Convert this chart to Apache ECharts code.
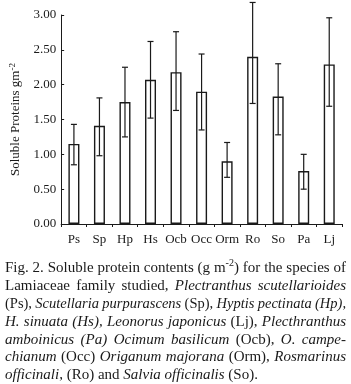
<!DOCTYPE html>
<html>
<head>
<meta charset="utf-8">
<script src="https://cdn.jsdelivr.net/npm/echarts@6/dist/echarts.min.js"></script>
<style>
  html, body { margin: 0; padding: 0; background: #fff; }
  #chart { width: 351px; height: 384px; }
</style>
</head>
<body>
<div id="chart"></div>
<script>
// species codes
var species = ['Ps', 'Sp', 'Hp', 'Hs', 'Ocb', 'Occ', 'Orm', 'Ro', 'So', 'Pa', 'Lj'];
// soluble protein, g m-2 (bar heights)
var protein = [1.15, 1.41, 1.75, 2.07, 2.18, 1.90, 0.90, 2.40, 1.83, 0.76, 2.29];
// error bar ends
var errLow  = [0.85, 0.98, 1.25, 1.52, 1.63, 1.35, 0.67, 1.73, 1.28, 0.50, 1.69];
var errHigh = [1.43, 1.81, 2.25, 2.62, 2.76, 2.44, 1.17, 3.18, 2.30, 1.00, 2.96];
var yTicks = ['0.00', '0.50', '1.00', '1.50', '2.00', '2.50', '3.00'];

// figure caption, runs of [text, style]  n = normal, i = italic, sup = superscript
var captionLines = [
    [['Fig. 2. Soluble protein contents (g m', 'n'], ['-2', 'sup'], [') for the species of', 'n']],
    [['Lamiaceae family studied, ', 'n'], ['Plectranthus scutellarioides', 'i']],
    [['(Ps), ', 'n'], ['Scutellaria purpurascens', 'i'], [' (Sp), ', 'n'], ['Hyptis pectinata (Hp),', 'i']],
    [['H. sinuata (Hs), Leonorus japonicus', 'i'], [' (Lj), ', 'n'], ['Plecthranthus', 'i']],
    [['amboinicus (Pa) Ocimum basilicum', 'i'], [' (Ocb), ', 'n'], ['O. campe-', 'i']],
    [['chianum', 'i'], [' (Occ) ', 'n'], ['Origanum majorana', 'i'], [' (Orm), ', 'n'], ['Rosmarinus', 'i']],
    [['officinali', 'i'], [', (Ro) and ', 'n'], ['Salvia officinalis', 'i'], [' (So).', 'n']]
];

var SERIF = '"Liberation Serif", "Times New Roman", serif';
var INK = '#1a1a1a';

var chart = echarts.init(document.getElementById('chart'));

// ---- caption layout (justified like the printed page) ----
var measureCtx = document.createElement('canvas').getContext('2d');
function runFont(s, size) {
    if (s === 'sup') return Math.round(size * 0.66) + 'px ' + SERIF;
    return (s === 'i' ? 'italic ' : '') + size + 'px ' + SERIF;
}
function textWidth(t, s, size) {
    measureCtx.font = runFont(s, size);
    return measureCtx.measureText(t).width;
}
function splitWords(line) {
    var words = [], cur = [];
    line.forEach(function (run) {
        run[0].split(' ').forEach(function (p, j) {
            if (j > 0) { if (cur.length) words.push(cur); cur = []; }
            if (p) cur.push([p, run[1]]);
        });
    });
    if (cur.length) words.push(cur);
    return words;
}
function captionGraphics() {
    var els = [];
    var left = 5, right = 346, top = 268, step = 17.9;
    captionLines.forEach(function (line, li) {
        var words = splitWords(line);
        var size = 15, widths, total;
        // shrink a crowded line a little so the word gaps stay readable
        while (true) {
            widths = words.map(function (w) {
                return w.reduce(function (a, r) { return a + textWidth(r[0], r[1], size); }, 0);
            });
            total = widths.reduce(function (a, b) { return a + b; }, 0);
            if (total + (words.length - 1) * 2.8 <= right - left || size <= 12) break;
            size -= 0.25;
        }
        var last = li === captionLines.length - 1;
        var gap = last ? textWidth(' ', 'n', size) : (right - left - total) / (words.length - 1);
        var x = left, y = top + li * step;
        words.forEach(function (w, wi) {
            var xx = x;
            w.forEach(function (r) {
                els.push({
                    type: 'text',
                    x: xx,
                    y: r[1] === 'sup' ? y - 5 : y,
                    style: { text: r[0], font: runFont(r[1], size), fill: INK, verticalAlign: 'middle', align: 'left' }
                });
                xx += textWidth(r[0], r[1], size);
            });
            x += widths[wi] + gap;
        });
    });
    return els;
}

var errData = species.map(function (s, i) { return [i, errLow[i], errHigh[i]]; });

function renderErr(params, api) {
    var lo = api.coord([api.value(0), api.value(1)]);
    var hi = api.coord([api.value(0), api.value(2)]);
    var cap = 3;
    var st = { stroke: INK, lineWidth: 1.2 };
    return {
        type: 'group',
        children: [
            { type: 'line', shape: { x1: lo[0], y1: lo[1], x2: hi[0], y2: hi[1] }, style: st },
            { type: 'line', shape: { x1: lo[0] - cap, y1: lo[1], x2: lo[0] + cap, y2: lo[1] }, style: st },
            { type: 'line', shape: { x1: hi[0] - cap, y1: hi[1], x2: hi[0] + cap, y2: hi[1] }, style: st }
        ]
    };
}

chart.setOption({
    backgroundColor: '#fff',
    animation: false,
    grid: { left: 48, right: 9, top: 15, bottom: 160, containLabel: false },
    xAxis: {
        type: 'category',
        data: species,
        axisLine: { lineStyle: { color: INK, width: 1 } },
        axisTick: { show: true, length: 3, lineStyle: { color: INK } },
        axisLabel: { color: INK, fontFamily: SERIF, fontSize: 13, margin: 9, interval: 0 }
    },
    yAxis: {
        type: 'value',
        min: 0,
        max: 3,
        interval: 0.5,
        name: '{a|Soluble Proteins gm}{s|-2}',
        nameLocation: 'middle',
        nameRotate: 90,
        nameGap: 37,
        nameTextStyle: {
            color: INK,
            rich: {
                a: { fontFamily: SERIF, fontSize: 13, color: INK },
                s: { fontFamily: SERIF, fontSize: 9, color: INK, padding: [0, 0, 7, 0] }
            }
        },
        axisLine: { show: true, lineStyle: { color: INK, width: 1 } },
        axisTick: { show: true, inside: true, length: 3, lineStyle: { color: INK } },
        splitLine: { show: false },
        axisLabel: {
            color: INK, fontFamily: SERIF, fontSize: 13, margin: 5,
            formatter: function (v) { return yTicks[Math.round(v / 0.5)]; }
        }
    },
    series: [
        {
            type: 'bar',
            data: protein,
            barWidth: 11,
            itemStyle: { color: '#fff', borderColor: INK, borderWidth: 1.4 }
        },
        {
            type: 'custom',
            data: errData,
            renderItem: renderErr,
            z: 5
        }
    ],
    graphic: captionGraphics()
});
</script>
</body>
</html>
